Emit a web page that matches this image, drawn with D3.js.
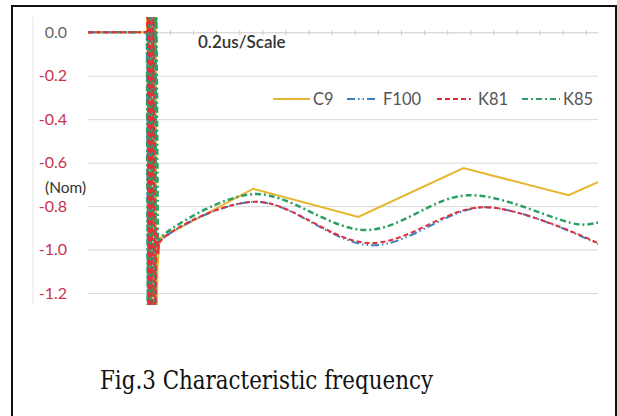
<!DOCTYPE html>
<html>
<head>
<meta charset="utf-8">
<script src="https://cdn.jsdelivr.net/npm/d3@7"></script>
<style>
  body { margin: 0; background: #fff; }
  svg { display: block; }
</style>
</head>
<body>
<div id="chart"></div>
<script>
// time in us (one tick = 0.2us), value in Nom
const seriesNames = ['C9', 'F100', 'K81', 'K85']
const c9T  = [-0.51, 0.0, 0.005, 0.012, 0.02, 0.075, 0.082, 0.09, 0.11, 0.92, 1.83, 2.74, 3.65, 3.905]
const c9V  = [0, 0, 0.3, -1.5, 0.3, 0.3, -1.5, -1.1, -0.95, -0.72, -0.85, -0.625, -0.75, -0.69]
const f100T = [-0.51, 0.0, 0.01, 0.02, 0.03, 0.045, 0.06, 0.075, 0.1, 0.12, 0.935, 1.95, 2.93, 3.905]
const f100V = [0, 0, -1.5, 0.3, -1.5, 0.3, -1.5, -0.9, -1.0, -0.96, -0.78, -0.98, -0.805, -0.975]
const k81T = [-0.51, 0.0, 0.008, 0.018, 0.028, 0.04, 0.055, 0.07, 0.085, 0.1, 0.12, 0.935, 1.93, 2.92, 3.905]
const k81V = [0, 0, 0.3, -1.5, 0.3, -1.5, 0.3, -1.5, -0.9, -1.02, -0.96, -0.78, -0.97, -0.805, -0.97]
const k85T = [-0.51, 0.0, 0.008, 0.016, 0.024, 0.032, 0.04, 0.048, 0.056, 0.064, 0.072, 0.08, 0.095, 0.11, 0.92, 1.9, 2.78, 3.75, 3.905]
const k85V = [0, 0, -1.5, 0.3, -1.5, 0.3, -1.5, 0.3, -1.5, 0.3, -1.5, 0.3, -0.98, -0.95, -0.745, -0.91, -0.75, -0.885, -0.875]
const yTicks = [0, -0.2, -0.4, -0.6, -0.8, -1.0, -1.2]
const xTicks = d3.range(0, 3.81, 0.2)
const tSplit = 0.1   // end of the ringing burst

const colors = {C9: '#e6b62e', F100: '#3a7fc1', K81: '#e0303a', K85: '#2b9e62'}
const dashes = {C9: null, F100: '8,3,1.5,3,1.5,3', K81: '5,3', K85: '6,3,2,3'}
const drawOrder = ['C9', 'F100', 'K85', 'K81']

const dataReady = [
  {name: 'C9',   values: c9T.map((t, i) => ({t, v: c9V[i]}))},
  {name: 'F100', values: f100T.map((t, i) => ({t, v: f100V[i]}))},
  {name: 'K81',  values: k81T.map((t, i) => ({t, v: k81V[i]}))},
  {name: 'K85',  values: k85T.map((t, i) => ({t, v: k85V[i]}))}
].sort((a, b) => drawOrder.indexOf(a.name) - drawOrder.indexOf(b.name))

const width = 617, height = 416
const plot = {left: 88, right: 598, top: 17, bottom: 305}

const x = d3.scaleLinear().domain([-0.51, 3.905]).range([plot.left, plot.right])
const y = d3.scaleLinear().domain([-1.255, 0.07]).range([plot.bottom, plot.top])

const svg = d3.select('#chart').append('svg')
    .attr('width', width)
    .attr('height', height)

// outer frame
svg.append('rect')
    .attr('x', 12).attr('y', 6)
    .attr('width', 604).attr('height', 420)
    .attr('fill', 'none')
    .attr('stroke', '#111')
    .attr('stroke-width', 2)

// faint left rule
svg.append('line')
    .attr('x1', 33).attr('x2', 33)
    .attr('y1', plot.top).attr('y2', plot.bottom)
    .attr('stroke', '#e6e6e6')

// y axis with grid lines
svg.append('g')
    .attr('transform', `translate(${plot.left},0)`)
    .call(d3.axisLeft(y).tickValues(yTicks)
      .tickSize(-(plot.right - plot.left))
      .tickPadding(21)
      .tickFormat(d => d.toFixed(1)))
    .call(g => g.select('.domain').remove())
    .call(g => g.selectAll('.tick line').attr('stroke', '#d9d9d9'))
    .call(g => g.selectAll('.tick text')
      .attr('font-family', 'Lato, sans-serif')
      .attr('font-size', 16)
      .attr('fill', d => d === 0 ? '#666' : '#c8334c'))

// x axis on the zero line
svg.append('g')
    .attr('transform', `translate(0,${y(0)})`)
    .call(d3.axisBottom(x).tickValues(xTicks).tickSizeInner(3).tickSizeOuter(0).tickFormat(''))
    .call(g => g.select('.domain').attr('stroke', '#d9d9d9'))
    .call(g => g.selectAll('.tick line').attr('stroke', '#c8c8c8').attr('y1', -2))

svg.append('defs').append('clipPath').attr('id', 'clip')
  .append('rect')
    .attr('x', plot.left).attr('y', plot.top)
    .attr('width', plot.right - plot.left).attr('height', plot.bottom - plot.top)

// burst drawn straight, the slow part smoothed (C9 is straight all along)
const lineStraight = d3.line().x(d => x(d.t)).y(d => y(d.v))
const lineSmooth = d3.line().x(d => x(d.t)).y(d => y(d.v)).curve(d3.curveCatmullRom.alpha(0.5))

function seriesPath(d) {
  if (d.name === 'C9') return lineStraight(d.values)
  const head = d.values.filter(p => p.t <= tSplit)
  const tail = d.values.slice(head.length - 1)
  return lineStraight(head) + lineSmooth(tail).replace(/^M/, 'L')
}

svg.append('g')
    .attr('clip-path', 'url(#clip)')
  .selectAll('path')
  .data(dataReady)
  .join('path')
    .attr('d', seriesPath)
    .attr('fill', 'none')
    .attr('stroke', d => colors[d.name])
    .attr('stroke-width', d => d.name === 'K85' ? 2.5 : 2)
    .attr('stroke-dasharray', d => dashes[d.name])

// texts
svg.append('text')
    .attr('x', 198).attr('y', 48)
    .attr('font-family', 'Lato, sans-serif')
    .attr('font-size', 17)
    .attr('font-weight', 600)
    .attr('fill', '#333')
    .text('0.2us/Scale')

svg.append('text')
    .attr('x', 45).attr('y', 193)
    .attr('font-family', 'Lato, sans-serif')
    .attr('font-size', 15.5)
    .attr('fill', '#333')
    .text('(Nom)')

// legend
const legendX = {C9: [273, 310, 313], F100: [347, 376, 383], K81: [437, 471, 478], K85: [522, 560, 563]}
const legend = svg.append('g')
  .selectAll('g')
  .data(seriesNames)
  .join('g')
legend.append('line')
    .attr('x1', d => legendX[d][0]).attr('x2', d => legendX[d][1])
    .attr('y1', 99).attr('y2', 99)
    .attr('stroke', d => colors[d])
    .attr('stroke-width', 2)
    .attr('stroke-dasharray', d => dashes[d])
legend.append('text')
    .attr('x', d => legendX[d][2]).attr('y', 99)
    .attr('dominant-baseline', 'central')
    .attr('font-family', 'Lato, sans-serif')
    .attr('font-size', 16.5)
    .attr('fill', '#555')
    .text(d => d)

// caption
svg.append('text')
    .attr('x', 100).attr('y', 389)
    .attr('font-family', '"DejaVu Serif", serif')
    .attr('font-size', 26)
    .attr('textLength', 333)
    .attr('lengthAdjust', 'spacingAndGlyphs')
    .attr('fill', '#111')
    .text('Fig.3 Characteristic frequency')
</script>
</body>
</html>
